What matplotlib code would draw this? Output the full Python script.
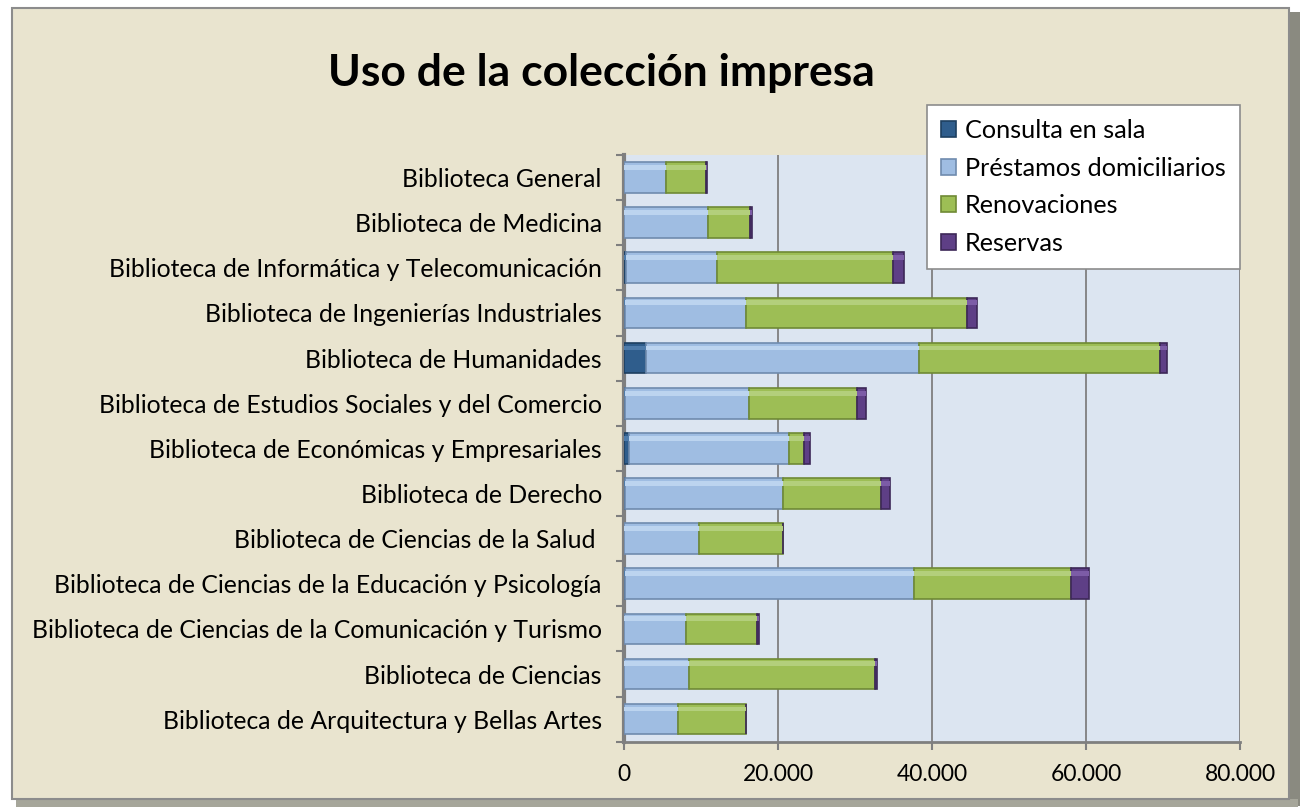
import matplotlib
matplotlib.use("Agg")
import matplotlib.pyplot as plt
from matplotlib.patches import Rectangle
from matplotlib.ticker import FuncFormatter
import numpy as np

plt.rcParams['font.family'] = ['Lato', 'DejaVu Sans']

categories = [
    "Biblioteca General",
    "Biblioteca de Medicina",
    "Biblioteca de Informática y Telecomunicación",
    "Biblioteca de Ingenierías Industriales",
    "Biblioteca de Humanidades",
    "Biblioteca de Estudios Sociales y del Comercio",
    "Biblioteca de Económicas y Empresariales",
    "Biblioteca de Derecho",
    "Biblioteca de Ciencias de la Salud ",
    "Biblioteca de Ciencias de la Educación y Psicología",
    "Biblioteca de Ciencias de la Comunicación y Turismo",
    "Biblioteca de Ciencias",
    "Biblioteca de Arquitectura y Bellas Artes",
]
consulta = [0, 0, 200, 100, 2800, 100, 700, 100, 0, 100, 0, 0, 0]
prestamos = [5500, 10900, 11900, 15800, 35500, 16100, 20700, 20500, 9800, 37500, 8000, 8400, 7000]
renovaciones = [5200, 5500, 22800, 28700, 31300, 14000, 2000, 12800, 10800, 20500, 9300, 24200, 8800]
reservas = [100, 200, 1400, 1200, 900, 1200, 800, 1100, 100, 2300, 200, 200, 100]
series_names = ["Consulta en sala", "Préstamos domiciliarios", "Renovaciones", "Reservas"]
xticks = [0, 20000, 40000, 60000, 80000]

colors = ["#2F5D8C", "#9FBDE2", "#9DBE55", "#5E3F86"]
edges = ["#1E3F60", "#6F8BAE", "#6F8A35", "#3D2858"]
highlights = ["#4E7BAA", "#BCD4EF", "#B3CF7C", "#7C5CA6"]

W, H = 1301, 809
fig = plt.figure(figsize=(W / 100, H / 100), dpi=100)
fig.patch.set_facecolor("white")

# panel frame with shadow
fig.add_artist(Rectangle((1288 / W, 1 - 806 / H), 12 / W, (806 - 12) / H,
                         transform=fig.transFigure, facecolor="#8A8A80", edgecolor="none", zorder=0))
fig.add_artist(Rectangle((16 / W, 1 - 807 / H), (1298 - 16) / W, 8 / H,
                         transform=fig.transFigure, facecolor="#A6A69A", edgecolor="none", zorder=0))
fig.add_artist(Rectangle((12 / W, 1 - 799 / H), (1289 - 12) / W, (799 - 8) / H,
                         transform=fig.transFigure, facecolor="#E9E4CF", edgecolor="#8C8C8C",
                         linewidth=1.5, zorder=0))

ax = fig.add_axes([624 / W, 1 - 741.7 / H, (1240 - 624) / W, (741.7 - 155) / H])
ax.set_facecolor("#DCE5F1")

y = np.arange(len(categories))
bh = 0.68
left = np.zeros(len(categories))
for vals, name, c, e, hl in zip([consulta, prestamos, renovaciones, reservas], series_names,
                                colors, edges, highlights):
    vals = np.array(vals, dtype=float)
    ax.barh(y, vals, left=left, height=bh, color=c, edgecolor=e, linewidth=1.2,
            label=name, zorder=3)
    # bevel highlight along the top of each segment
    ax.barh(y - bh * 0.33, vals, left=left, height=bh * 0.16, color=hl, edgecolor="none",
            linewidth=0, zorder=4)
    left += vals

ax.set_ylim(len(categories) - 0.5, -0.5)
ax.set_xlim(0, 80000)
ax.set_xticks(xticks)
ax.xaxis.set_major_formatter(FuncFormatter(lambda v, p: f"{int(v):,}".replace(",", ".")))
ax.grid(axis="x", color="#7F7F7F", linewidth=1.3, zorder=1)
ax.set_yticks(y)
ax.set_yticklabels(categories)
ax.set_yticks(np.arange(len(categories) + 1) - 0.5, minor=True)
ax.tick_params(axis="y", which="major", length=0, pad=16, labelsize=17.8, labelcolor="black")
ax.tick_params(axis="y", which="minor", length=6, width=1.5, color="#7F7F7F")
ax.tick_params(axis="x", length=6, width=1.5, color="#7F7F7F", pad=10, labelsize=16.5)

for s in ["top", "right"]:
    ax.spines[s].set_visible(False)
ax.spines["left"].set_color("#7F7F7F")
ax.spines["left"].set_linewidth(3)
ax.spines["bottom"].set_color("#7F7F7F")
ax.spines["bottom"].set_linewidth(2)

fig.text(601 / W, 1 - 73 / H, "Uso de la colección impresa", ha="center", va="center",
         fontsize=32, fontweight="bold", color="black")

leg = fig.legend(loc="upper left", bbox_to_anchor=(927 / W, 1 - 105 / H), fontsize=18.2,
                 frameon=True, fancybox=False, edgecolor="#8C8C8C", facecolor="white",
                 framealpha=1, handlelength=0.6, handleheight=0.6, handletextpad=0.35,
                 labelspacing=0.58, borderpad=0.55, borderaxespad=0)
leg.get_frame().set_linewidth(1.2)

fig.savefig("out.png", dpi=100, facecolor=fig.get_facecolor())
